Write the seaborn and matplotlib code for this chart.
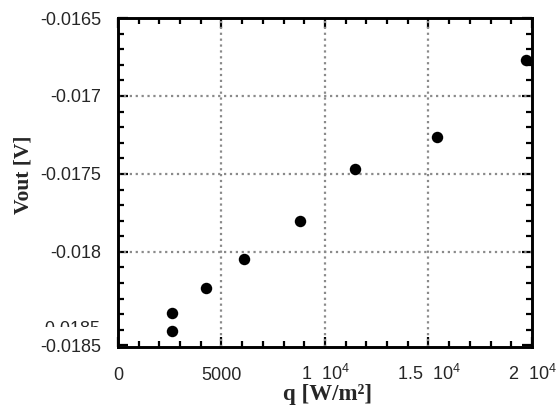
import numpy as np
import pandas as pd
import matplotlib
matplotlib.use("Agg")
import matplotlib.pyplot as plt
import seaborn as sns
from matplotlib.ticker import MultipleLocator, FixedLocator
from matplotlib.transforms import Bbox, TransformedBbox

# data
q_values = [2620, 2620, 4230, 6090, 8770, 11470, 15390, 19700]
vout_values = [-0.018506, -0.018392, -0.018231, -0.018043, -0.017803, -0.017471, -0.017263, -0.016771]

x_ticks = [0, 5000, 10000, 15000, 20000]
x_tick_labels = ["0", "5000", r"1  $10^{4}$", r"1.5  $10^{4}$", r"2  $10^{4}$"]
y_ticks = [-0.0186, -0.018, -0.0175, -0.017, -0.0165]
y_tick_labels = ["-0.0185", "-0.018", "-0.0175", "-0.017", "-0.0165"]
x_label = "q [W/m²]"
y_label = "Vout [V]"

sns.set_style("ticks")
plt.rcParams["font.family"] = ["Liberation Sans", "DejaVu Sans"]
plt.rcParams["mathtext.fontset"] = "custom"
plt.rcParams["mathtext.rm"] = "Liberation Sans"
plt.rcParams["mathtext.it"] = "Liberation Sans:italic"
plt.rcParams["mathtext.bf"] = "Liberation Sans:bold"

df = pd.DataFrame({"q": q_values, "vout": vout_values})

fig = plt.figure(figsize=(5.56, 4.11), dpi=100)
ax = fig.add_axes([0.2122, 0.1557, 0.7446, 0.8005])

sns.scatterplot(data=df, x="q", y="vout", color="black", edgecolor="black",
                s=68, linewidth=0, ax=ax, zorder=5, clip_on=True)

ax.set_xlim(0, 20000)
ax.set_ylim(-0.01861, -0.0165)

ax.xaxis.set_major_locator(FixedLocator(x_ticks))
ax.set_xticklabels(x_tick_labels)
ax.xaxis.set_minor_locator(MultipleLocator(1000))
ax.yaxis.set_major_locator(FixedLocator(y_ticks))
ax.set_yticklabels(y_tick_labels)
ax.yaxis.set_minor_locator(FixedLocator(np.arange(-0.0185, -0.01649, 0.0001)))

ax.tick_params(which="both", direction="in", top=True, right=True, width=1.6, color="black")
ax.tick_params(which="major", length=7, labelsize=13)
ax.tick_params(axis="x", which="major", pad=23.5)
ax.tick_params(axis="y", which="major", pad=12)
ax.tick_params(which="minor", length=4.5)
for lab in ax.get_xticklabels():
    lab.set_verticalalignment("baseline")

for s in ax.spines.values():
    s.set_linewidth(2.1)
    s.set_color("black")

# grid lines only at interior major positions
for xv in [5000, 10000, 15000]:
    ax.axvline(xv, color="#8a8a8a", linestyle=":", linewidth=1.6, zorder=1)
for yv in [-0.018, -0.0175, -0.017]:
    ax.axhline(yv, color="#8a8a8a", linestyle=":", linewidth=1.6, zorder=1)

ax.set_xlabel(x_label, fontfamily="Liberation Serif", fontweight="bold", fontsize=16.5)
ax.set_ylabel(y_label, fontfamily="Liberation Serif", fontweight="bold", fontsize=15.5)
ax.xaxis.set_label_coords(0.507, -0.111)
ax.yaxis.set_label_coords(-0.205, 0.523)

# partially hidden duplicate label (artifact in original)
t = ax.text(-0.042, -0.0185, "-0.0185", transform=ax.get_yaxis_transform(),
            ha="right", va="center", fontsize=13, clip_on=True)
t.set_clip_box(TransformedBbox(Bbox([[0, 1 - 327 / 411], [0.2, 1 - 320 / 411]]), fig.transFigure))

fig.savefig("out.png", dpi=100)
